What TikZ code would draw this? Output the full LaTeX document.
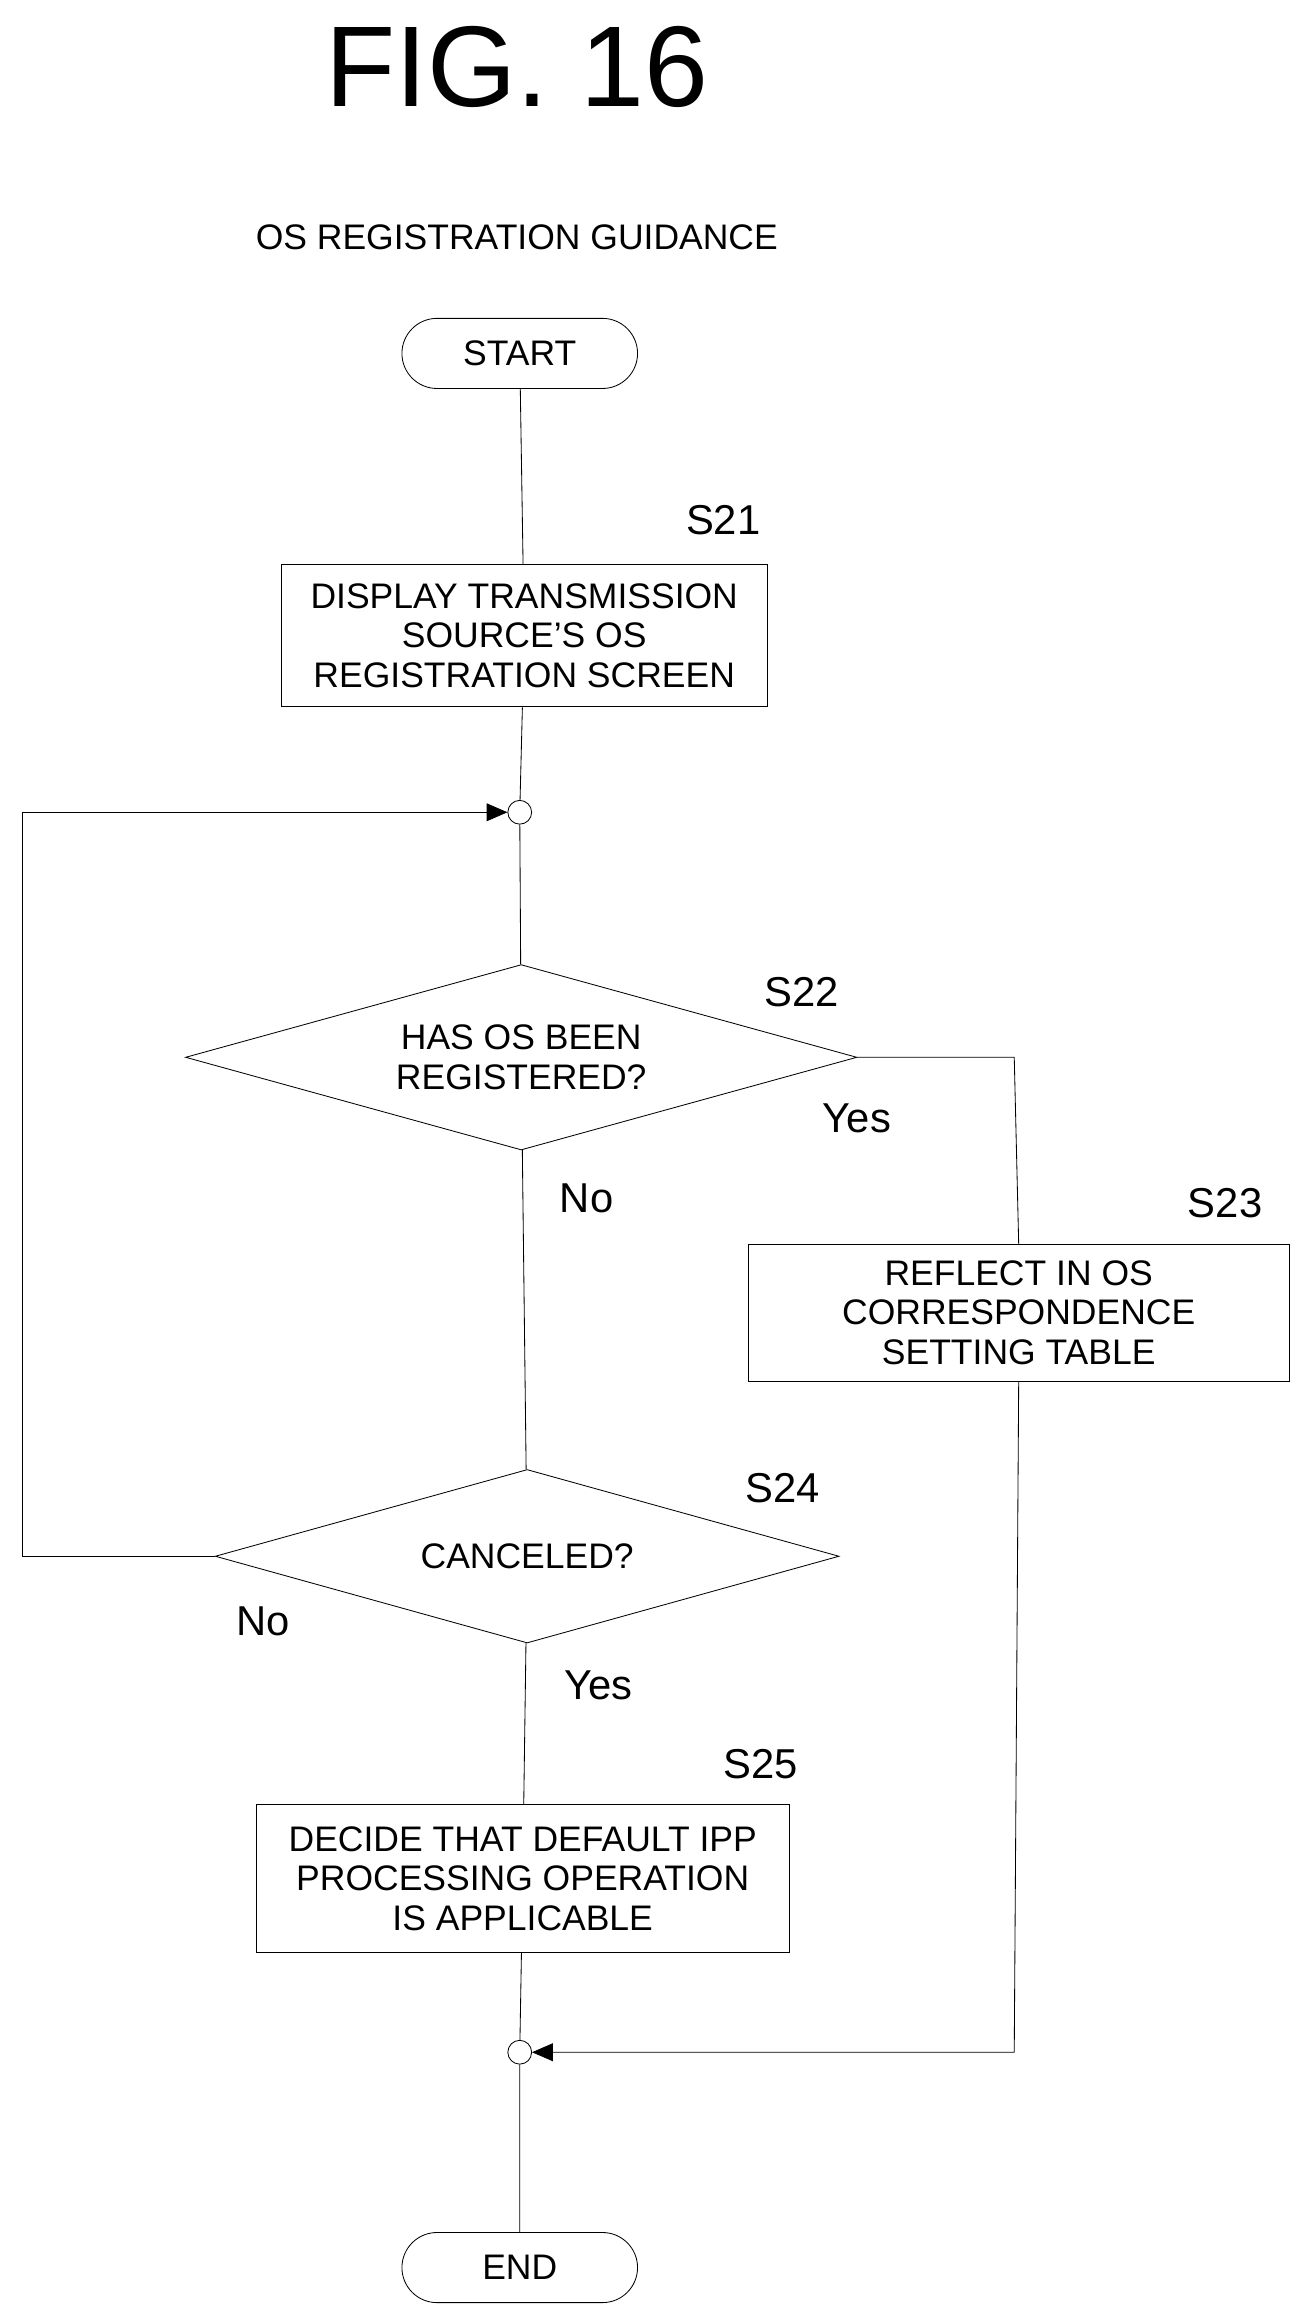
\documentclass[tikz,border=0pt]{standalone}
\usepackage{fontspec}
\setmainfont{Liberation Sans}
\usetikzlibrary{shapes.geometric,shapes.misc,arrows.meta}
\tikzset{
  box/.style={draw, thin, rectangle, align=center, font=\fontsize{17}{19}\selectfont},
  term/.style={draw, thin, rounded rectangle, minimum width=4.2cm, minimum height=1.18cm, font=\fontsize{17}{19}\selectfont},
  dec/.style={draw, thin, diamond, aspect=3.6, inner sep=0pt, align=center, font=\fontsize{17}{19}\selectfont},
  steplbl/.style={font=\fontsize{20}{22}\selectfont},
  lbl/.style={font=\fontsize{20}{22}\selectfont},
  dot/.style={draw, circle, fill=white, minimum size=0.4cm, inner sep=0pt},
  flow/.style={thin, -{Triangle[length=0.35cm,width=0.3cm]}}
}
\begin{document}
\begin{tikzpicture}[x=0.025cm, y=-0.025cm]
        \useasboundingbox (0,0) rectangle (880,1563);

        % Title and caption
        \node[font=\fontsize{55}{60}\selectfont] (title) at (348,45) {FIG. 16};
        \node[font=\fontsize{17}{19}\selectfont] (caption) at (348,160) {OS REGISTRATION GUIDANCE};

        % Terminals
        \node[term] (start) at (350,238) {START};
        \node[term] (end) at (350,1527) {END};

        % Process boxes
        \node[box, minimum width=8.18cm, minimum height=2.4cm] (s21) at (353,428) {DISPLAY TRANSMISSION\\SOURCE'S OS\\REGISTRATION SCREEN};
        \node[box, minimum width=9.1cm, minimum height=2.3cm] (s23) at (686,884) {REFLECT IN OS\\CORRESPONDENCE\\SETTING TABLE};
        \node[box, minimum width=8.98cm, minimum height=2.5cm] (s25) at (352,1265) {DECIDE THAT DEFAULT IPP\\PROCESSING OPERATION\\IS APPLICABLE};

        % Decisions
        \node[dec, minimum width=11.3cm, minimum height=3.12cm] (s22) at (351,712) {HAS OS BEEN\\REGISTERED?};
        \node[dec, minimum width=10.5cm, minimum height=2.92cm] (s24) at (355,1048) {CANCELED?};

        % Junctions
        \node[dot] (j1) at (350,547) {};
        \node[dot] (j2) at (350,1382) {};
        \coordinate (loopb) at (15,1048);
        \coordinate (loopt) at (15,547);
        \coordinate (yesr) at (683,712);
        \coordinate (yesb) at (683,1382);

        % Step labels
        \node[steplbl] (l21) at (487,350) {S21};
        \node[steplbl] (l22) at (540,668) {S22};
        \node[steplbl] (l23) at (825,810) {S23};
        \node[steplbl] (l24) at (527,1002) {S24};
        \node[steplbl] (l25) at (512,1188) {S25};

        % Branch labels
        \node[lbl] (y22) at (577,753) {Yes};
        \node[lbl] (n22) at (395,807) {No};
        \node[lbl] (n24) at (177,1092) {No};
        \node[lbl] (y24) at (403,1135) {Yes};

        % Connectors
        \draw[thin] (start) -- (s21);
        \draw[thin] (s21) -- (j1);
        \draw[thin] (j1) -- (s22);
        \draw[thin] (s22) -- (s24);
        \draw[thin] (s24) -- (s25);
        \draw[thin] (s25) -- (j2);
        \draw[thin] (j2) -- (end);
        \draw[flow] (s24.west) -- (loopb) -- (loopt) -- (j1);
        \draw[thin] (s22.east) -- (yesr) -- (s23.north);
        \draw[flow] (s23.south) -- (yesb) -- (j2);
\end{tikzpicture}
\end{document}
